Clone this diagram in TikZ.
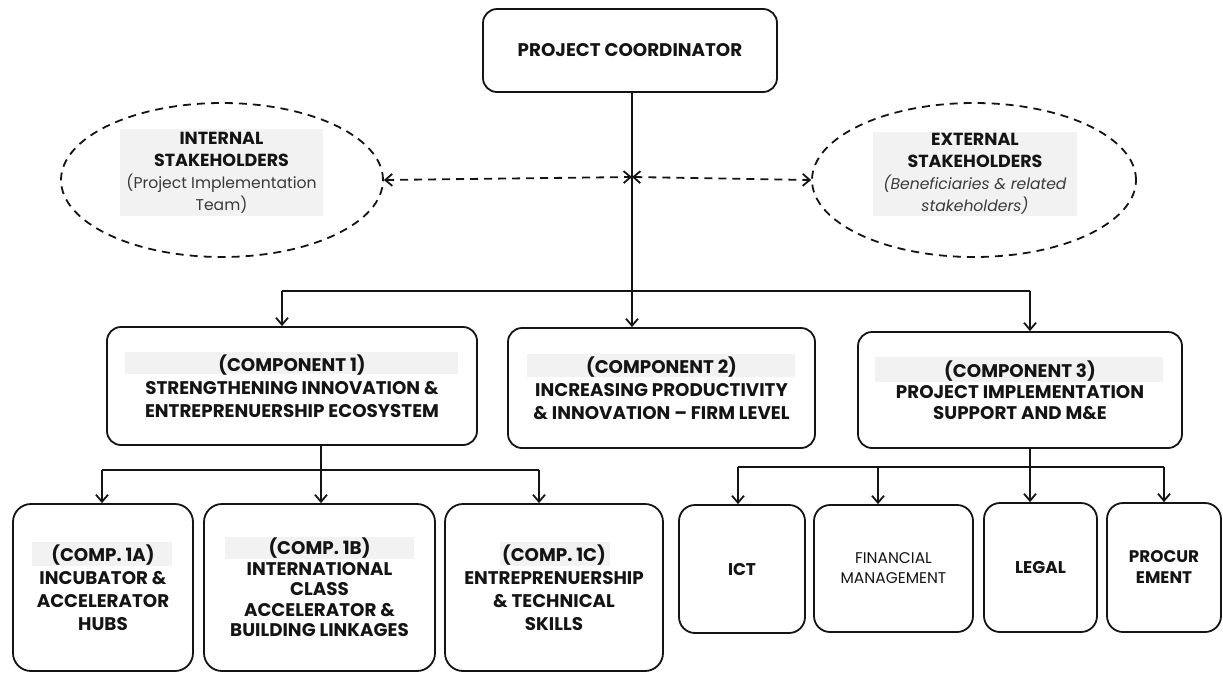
\documentclass[tikz,border=0pt]{standalone}
\usepackage{fontspec}
\setmainfont{Poppins}
\usetikzlibrary{shapes.geometric,arrows.meta}
\definecolor{hl}{HTML}{F2F2F2}
\definecolor{txtgray}{HTML}{3A3A3A}
\definecolor{ink}{HTML}{141414}
\begin{document}
\begin{tikzpicture}[x=1pt,y=-1pt,
  box/.style={draw=ink, line width=1.8pt, rounded corners=14pt, inner sep=0pt, align=center, text=ink,
    font=\bfseries\fontsize{18.3}{23}\selectfont},
  conn/.style={draw=ink, line width=1.8pt, -{Straight Barb[length=7pt,width=12pt]}},
  plain/.style={draw=ink, line width=1.8pt},
  dconn/.style={draw=ink, line width=1.8pt, dash pattern=on 8pt off 6pt,
    {Straight Barb[length=7pt,width=12pt]}-{Straight Barb[length=7pt,width=12pt]}},
  stake/.style={draw=ink, line width=1.8pt, dash pattern=on 8pt off 6pt, ellipse, inner sep=0pt},
  hlbox/.style={fill=hl, inner sep=0pt, align=center, text=ink, font=\fontsize{15.6}{22}\selectfont}
]
\useasboundingbox (0,0) rectangle (1223,673);

% ---------- top ----------
\node[box, minimum width=294pt, minimum height=83pt] (pc) at (630,50.5) {PROJECT COORDINATOR};

\node[stake, minimum width=322pt, minimum height=154pt] (int) at (222,180) {};
\node[stake, minimum width=324pt, minimum height=154pt] (ext) at (974,180) {};
\node[hlbox, minimum width=203pt, minimum height=87pt] (intt) at (221.5,172.5)
  {{\bfseries\fontsize{17.5}{22}\selectfont INTERNAL}\\{\bfseries\fontsize{17.5}{22}\selectfont STAKEHOLDERS}\\{\color{txtgray}(Project Implementation}\\{\color{txtgray}Team)}};
\node[hlbox, minimum width=204pt, minimum height=84pt] (extt) at (975,174)
  {{\bfseries\fontsize{17.5}{22}\selectfont EXTERNAL}\\{\bfseries\fontsize{17.5}{22}\selectfont STAKEHOLDERS}\\{\color{txtgray}\itshape (Beneficiaries \& related}\\{\color{txtgray}\itshape stakeholders)}};

% ---------- components ----------
\fill[hl] (125,352) rectangle (458,374);
\fill[hl] (527,354) rectangle (795,377);
\fill[hl] (875,357) rectangle (1163,382);
\node[box, minimum width=370pt, minimum height=118pt] (c1) at (292,386)
  {(COMPONENT 1)\\STRENGTHENING INNOVATION \&\\ENTREPRENUERSHIP ECOSYSTEM};
\node[box, minimum width=307pt, minimum height=120pt] (c2) at (661.5,388)
  {(COMPONENT 2)\\INCREASING PRODUCTIVITY\\\& INNOVATION – FIRM LEVEL};
\node[box, minimum width=324pt, minimum height=116pt,
  font=\bfseries\fontsize{18.3}{21}\selectfont] (c3) at (1020,390)
  {(COMPONENT 3)\\PROJECT IMPLEMENTATION\\SUPPORT AND M\&E};

% ---------- sub components ----------
\fill[hl] (32,542) rectangle (172,566);
\fill[hl] (225,537) rectangle (414,559);
\fill[hl] (500,542) rectangle (610,566);
\node[box, rounded corners=18pt, minimum width=180pt, minimum height=167pt] (s1a) at (103,587.5)
  {(COMP. 1A)\\INCUBATOR \&\\ACCELERATOR\\HUBS};
\node[box, rounded corners=18pt, minimum width=231pt, minimum height=167pt,
  font=\bfseries\fontsize{18.3}{20.5}\selectfont] (s1b) at (319.5,587.5)
  {(COMP. 1B)\\INTERNATIONAL\\CLASS\\ACCELERATOR \&\\BUILDING LINKAGES};
\node[box, rounded corners=18pt, minimum width=218pt, minimum height=167pt] (s1c) at (554,587.5)
  {(COMP. 1C)\\ENTREPRENUERSHIP\\\& TECHNICAL\\SKILLS};

\node[box, rounded corners=16pt, minimum width=126pt, minimum height=128pt,
  font=\bfseries\fontsize{17}{21}\selectfont] (ict) at (742,569) {ICT};
\node[box, rounded corners=16pt, minimum width=159pt, minimum height=127pt,
  font=\mdseries\fontsize{15.5}{20}\selectfont] (fin) at (893.5,568.5) {FINANCIAL\\MANAGEMENT};
\node[box, rounded corners=16pt, minimum width=113pt, minimum height=129pt,
  font=\bfseries\fontsize{17}{21}\selectfont] (leg) at (1040.5,567.5) {LEGAL};
\node[box, rounded corners=16pt, minimum width=114pt, minimum height=129pt,
  font=\bfseries\fontsize{16.8}{21}\selectfont] (proc) at (1164,567.5) {PROCUR\\EMENT};

% ---------- connectors ----------
\coordinate (hub) at (632,177);
\coordinate (barL) at (282,291);
\coordinate (barR) at (1030,291);
\draw[conn] (pc.south -| hub) -- (hub |- c2.north);
\draw[dconn] (int.east) -- (hub);
\draw[dconn] (hub) -- (ext.west);
\draw[plain] (barL) -- (barR);
\draw[conn] (barL) -- (barL |- c1.north);
\draw[conn] (barR) -- (barR |- c3.north);

\coordinate (s1) at (321,470);
\coordinate (s1L) at (102,470);
\coordinate (s1R) at (539,470);
\draw[conn] (s1 |- c1.south) -- (s1 |- s1b.north);
\draw[plain] (s1L) -- (s1R);
\draw[conn] (s1L) -- (s1L |- s1a.north);
\draw[conn] (s1R) -- (s1R |- s1c.north);

\coordinate (s3) at (1030,467);
\coordinate (s3L) at (738,467);
\coordinate (s3F) at (878,467);
\coordinate (s3R) at (1164,467);
\draw[conn] (s3 |- c3.south) -- (s3 |- leg.north);
\draw[plain] (s3L) -- (s3R);
\draw[conn] (s3L) -- (s3L |- ict.north);
\draw[conn] (s3F) -- (s3F |- fin.north);
\draw[conn] (s3R) -- (s3R |- proc.north);
\end{tikzpicture}
\end{document}
